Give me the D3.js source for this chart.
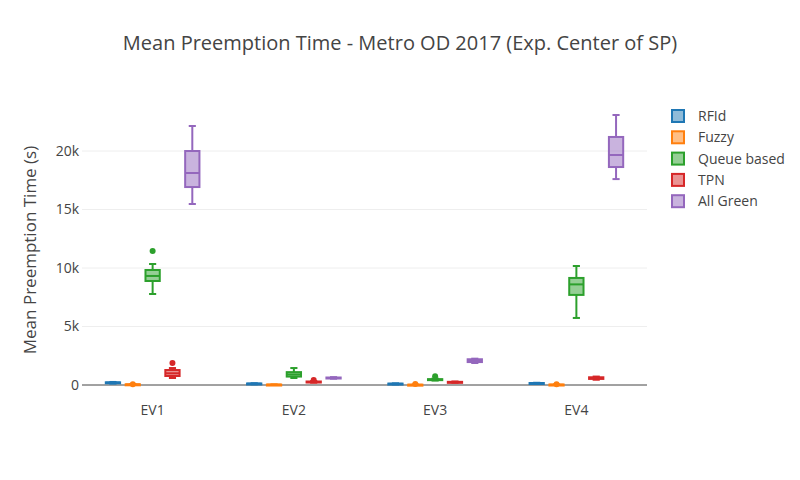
<!DOCTYPE html>
<html>
<head>
<meta charset="UTF-8">
<script src="https://d3js.org/d3.v7.min.js"></script>
<style>
  body { margin: 0; background: #fff; }
  text { font-family: "Open Sans", sans-serif; fill: #444; }
</style>
</head>
<body>
<svg width="800" height="480"></svg>
<script>
const categories = ["EV1", "EV2", "EV3", "EV4"];
const seriesNames = ["RFId", "Fuzzy", "Queue based", "TPN", "All Green"];
const colors = ["#1f77b4", "#ff7f0e", "#2ca02c", "#d62728", "#9467bd"];
// [min, q1, median, q3, max] per series, per category
const rfid   = [[120,170,200,230,260], [60,90,110,130,150], [50,80,100,120,140], [100,130,150,170,190]];
const fuzzy  = [[10,30,50,60,80], [5,20,30,40,50], [5,10,20,30,40], [5,15,30,40,50]];
const queue  = [[7780,8890,9320,9830,10340], [600,720,900,1100,1450], [380,420,450,500,550], [5730,7700,8600,9150,10170]];
const tpn    = [[600,770,1000,1280,1450], [200,230,250,300,340], [200,230,250,270,300], [450,520,600,660,720]];
const green  = [[15470,16920,18120,20000,22140], [540,570,600,640,670], [1880,1960,2050,2200,2250], [17600,18630,19660,21200,23080]];
const outliers = [
  [[], [60], [11450], [1880], []],
  [[], [], [], [430], []],
  [[], [80], [750], [], []],
  [[], [60], [], [], []]
];
const yTicks = [0, 5000, 10000, 15000, 20000];
const stats = [rfid, fuzzy, queue, tpn, green];

const svg = d3.select("svg");
const x = d3.scaleBand().domain(categories).range([82, 647]);
const xs = d3.scaleBand().domain(seriesNames).range([0, x.bandwidth()]).paddingInner(0.28).paddingOuter(1.2);
const y = d3.scaleLinear().domain([0, 24360]).range([385, 100]);

svg.append("g").selectAll("line").data(yTicks.slice(1)).join("line")
  .attr("x1", 82).attr("x2", 647).attr("y1", d => y(d)).attr("y2", d => y(d))
  .attr("stroke", "#eee");
svg.append("line").attr("x1", 82).attr("x2", 647).attr("y1", y(0)).attr("y2", y(0))
  .attr("stroke", "#444").attr("stroke-width", 1);

svg.append("g").selectAll("text").data(yTicks).join("text")
  .attr("x", 79).attr("y", d => y(d) + 4.5).attr("text-anchor", "end").attr("font-size", 14)
  .text(d => d === 0 ? "0" : d / 1000 + "k");
svg.append("g").selectAll("text").data(categories).join("text")
  .attr("x", d => x(d) + x.bandwidth() / 2).attr("y", 415).attr("text-anchor", "middle").attr("font-size", 14)
  .text(d => d);

svg.append("text").attr("transform", "translate(36,250) rotate(-90)").attr("text-anchor", "middle")
  .attr("font-size", 17).text("Mean Preemption Time (s)");
svg.append("text").attr("x", 400).attr("y", 50).attr("text-anchor", "middle").attr("font-size", 20)
  .text("Mean Preemption Time - Metro OD 2017 (Exp. Center of SP)");

const bw = xs.bandwidth();
seriesNames.forEach((s, si) => {
  const c = colors[si];
  categories.forEach((cat, ci) => {
    const [mn, q1, md, q3, mx] = stats[si][ci];
    const cx = x(cat) + xs(s) + bw / 2;
    const g = svg.append("g").attr("stroke", c).attr("stroke-width", 2);
    g.append("line").attr("x1", cx).attr("x2", cx).attr("y1", y(mx)).attr("y2", y(q3));
    g.append("line").attr("x1", cx).attr("x2", cx).attr("y1", y(q1)).attr("y2", y(mn));
    g.append("line").attr("x1", cx - bw / 4).attr("x2", cx + bw / 4).attr("y1", y(mx)).attr("y2", y(mx));
    g.append("line").attr("x1", cx - bw / 4).attr("x2", cx + bw / 4).attr("y1", y(mn)).attr("y2", y(mn));
    g.append("rect").attr("x", cx - bw / 2).attr("width", bw).attr("y", y(q3))
      .attr("height", Math.max(1, y(q1) - y(q3))).attr("fill", c).attr("fill-opacity", 0.5);
    g.append("line").attr("x1", cx - bw / 2).attr("x2", cx + bw / 2).attr("y1", y(md)).attr("y2", y(md));
    outliers[ci][si].forEach(v => {
      svg.append("circle").attr("cx", cx).attr("cy", y(v)).attr("r", 3).attr("fill", c);
    });
  });
});

const leg = svg.append("g").selectAll("g").data(seriesNames).join("g")
  .attr("transform", (d, i) => `translate(672,${116 + i * 21.3})`);
leg.append("rect").attr("x", 0).attr("y", -6).attr("width", 12).attr("height", 12)
  .attr("fill", (d, i) => colors[i]).attr("fill-opacity", 0.5)
  .attr("stroke", (d, i) => colors[i]).attr("stroke-width", 2);
leg.append("text").attr("x", 26).attr("y", 5).attr("font-size", 14).text(d => d);
</script>
</body>
</html>
